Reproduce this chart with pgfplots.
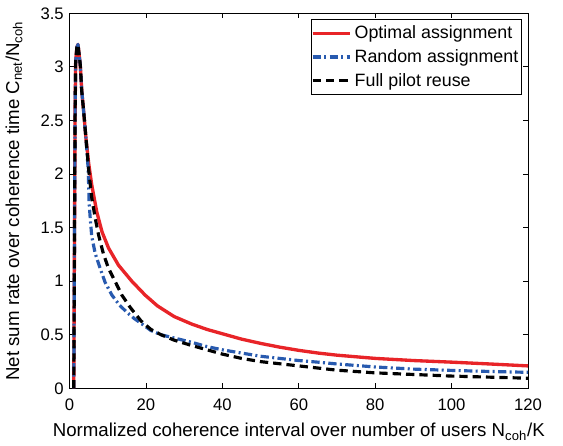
\documentclass[border=0pt]{standalone}
\usepackage{fontspec}
\setmainfont{Liberation Sans}
\usepackage{pgfplots}
\pgfplotsset{compat=1.18}
\definecolor{optred}{RGB}{232,36,40}
\definecolor{rndblue}{RGB}{40,90,175}

\begin{document}
\begin{tikzpicture}
\begin{axis}[
    name=main,
    scale only axis,
    width=275pt, height=225pt,
    xmin=0, xmax=120, ymin=0, ymax=3.5,
    xtick={0,20,...,120},
    ytick={0,0.5,...,3.5},
    tick align=inside,
    major tick length=3pt,
    axis line style={line width=0.6pt},
    tick style={line width=0.5pt, black},
    /pgf/number format/assume math mode=true,
    ticklabel style={font=\fontsize{10}{11}\selectfont},
    xticklabel style={yshift=-2.5pt},
    xlabel={Normalized coherence interval over number of users N\textsubscript{coh}/K},
    ylabel={Net sum rate over coherence time C\textsubscript{net}/N\textsubscript{coh}},
    label style={font=\fontsize{11.2}{13}\selectfont},
    xlabel style={yshift=-1pt},
    ylabel style={yshift=4pt},
    legend style={at={(axis description cs:0.987,0.984)}, anchor=north east,
        font=\fontsize{10.7}{12.5}\selectfont, draw=black, line width=0.5pt,
        inner xsep=0pt, inner ysep=1.5pt, row sep=1pt},
    legend cell align=left,
    legend image code/.code={\draw[line join=round, #1] plot coordinates {(0cm,0cm) (0.4cm,0cm) (0.78cm,0cm)};},
    every axis plot/.append style={line join=round},
]
% Optimal assignment
\addplot[optred, line width=2pt] coordinates {
  (1.1,0) (1.3,1.5) (1.45,2.6) (1.6,3.05) (1.9,3.18) (2.2,3.21) (2.8,3.02)
  (3.2,2.77) (3.7,2.58) (4.3,2.33) (5.0,2.1) (5.8,1.9) (7.1,1.65) (8.5,1.46)
  (10.2,1.31) (12.8,1.15) (16.3,1.0) (19.8,0.87) (23,0.77) (27.4,0.67)
  (32,0.6) (36,0.55) (40,0.51) (45,0.46) (50,0.42) (55,0.385) (60,0.355)
  (65,0.33) (70,0.31) (80,0.28) (90,0.26) (100,0.245) (110,0.228) (120,0.21)
};
\addlegendentry{Optimal assignment}
% Random assignment
\addplot[rndblue, line width=1.9pt, dash pattern=on 5pt off 2pt on 1.2pt off 2pt] coordinates {
  (1.1,0) (1.3,1.5) (1.45,2.6) (1.6,3.05) (1.9,3.18) (2.2,3.21) (2.8,3.02)
  (3.2,2.77) (3.7,2.58) (4.3,2.33) (4.8,2.08) (5.0,1.9) (5.1,1.74) (5.4,1.59)
  (5.8,1.42) (6.7,1.26) (8,1.12) (9.3,0.99) (11.1,0.87) (13,0.78) (15,0.71)
  (17,0.65) (19,0.6) (21.3,0.54) (24,0.5) (27.4,0.47) (32,0.43) (36,0.39)
  (40,0.36) (45,0.33) (50,0.30) (55,0.28) (60,0.26) (65,0.245) (70,0.228)
  (80,0.2) (90,0.18) (100,0.168) (110,0.158) (120,0.15)
};
\addlegendentry{Random assignment}
% Full pilot reuse
\addplot[black, line width=1.9pt, dash pattern=on 5pt off 3pt] coordinates {
  (1.1,0) (1.3,1.5) (1.45,2.6) (1.6,3.05) (1.9,3.18) (2.2,3.21) (2.8,3.02)
  (3.2,2.77) (3.7,2.58) (4.3,2.33) (5.0,2.04) (5.8,1.78) (6.7,1.59) (7.6,1.43)
  (8.9,1.25) (10.2,1.12) (11.9,1.0) (13.7,0.87) (16,0.75) (18.7,0.63)
  (21.3,0.55) (24,0.5) (27.4,0.45) (32,0.40) (36,0.36) (40,0.32) (45,0.28)
  (50,0.25) (55,0.23) (60,0.21) (65,0.19) (70,0.17) (80,0.145) (90,0.13)
  (100,0.115) (110,0.105) (120,0.095)
};
\addlegendentry{Full pilot reuse}
\end{axis}
% white space around the axis as in the reference
\path (main.north east) ++(21pt,8pt);
\end{tikzpicture}
\end{document}
